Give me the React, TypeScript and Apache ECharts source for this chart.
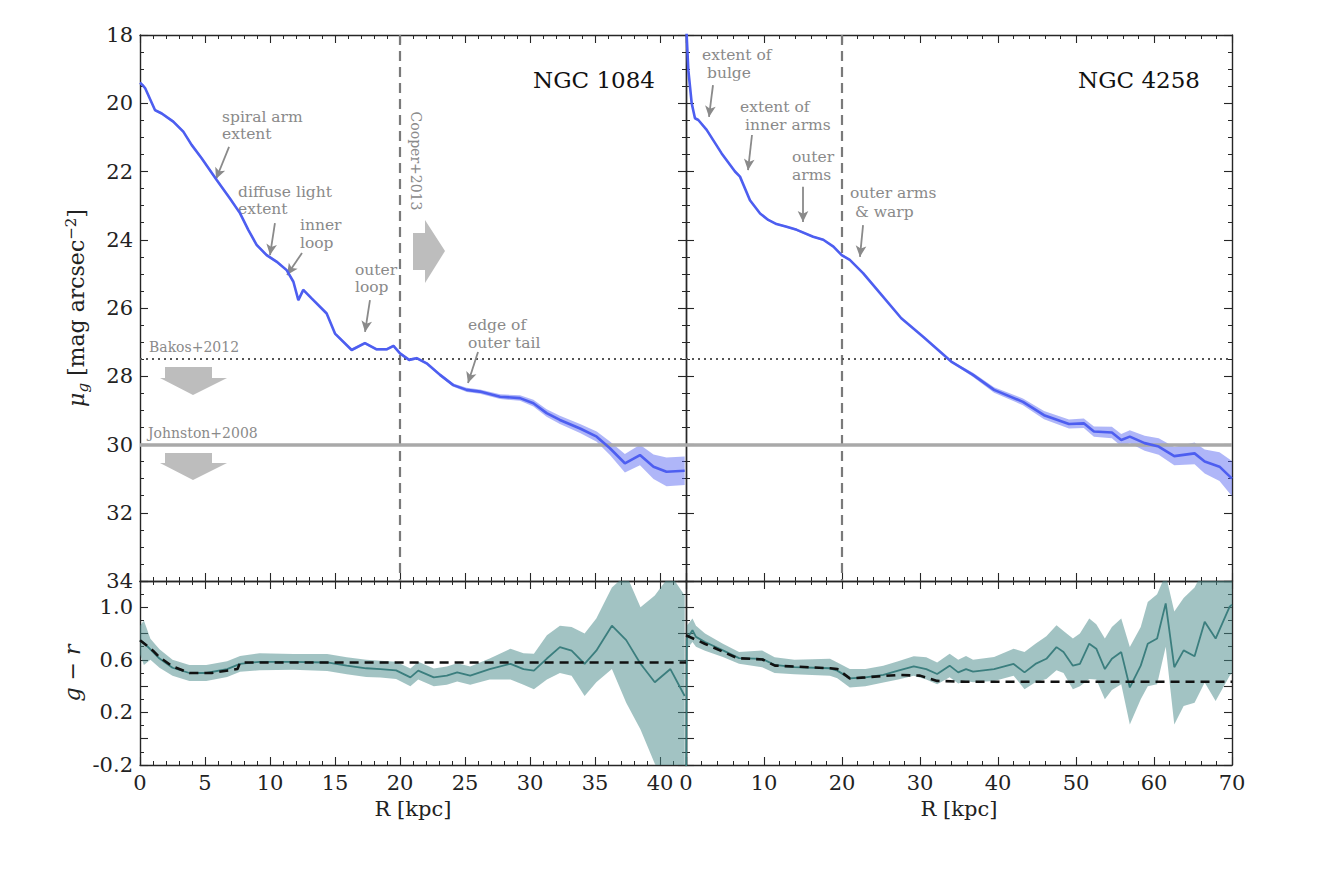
import React, { useEffect, useRef } from 'react';
import * as echarts from 'echarts';

// ---------- NGC 1084 surface brightness ----------
const N1084_R = [0, 0.2, 0.4, 1.15, 1.67, 2.56, 3.33, 3.97, 4.74, 5.9, 6.92, 7.69, 8.33, 8.97, 9.74, 10.5, 11.28, 11.8, 12.18, 12.56, 13.2, 14.36, 15.0, 16.28, 17.3, 18.2, 18.97, 19.5, 20.0, 20.7, 21.28, 22.05, 23.08, 24.1, 25.13, 26.15, 27.7, 29.23, 30.26, 31.28, 32.3, 33.85, 35.13, 36.15, 37.3, 38.46, 39.5, 40.5, 41.9];
const N1084_MU = [19.4, 19.47, 19.56, 20.2, 20.3, 20.54, 20.83, 21.22, 21.61, 22.25, 22.79, 23.22, 23.71, 24.15, 24.45, 24.64, 24.89, 25.23, 25.77, 25.47, 25.72, 26.16, 26.75, 27.23, 27.03, 27.21, 27.21, 27.11, 27.33, 27.52, 27.47, 27.62, 27.96, 28.26, 28.4, 28.45, 28.6, 28.64, 28.79, 29.08, 29.28, 29.53, 29.77, 30.11, 30.55, 30.31, 30.65, 30.8, 30.77];
const N1084_ERR = [0.04, 0.04, 0.04, 0.04, 0.04, 0.04, 0.04, 0.04, 0.04, 0.04, 0.04, 0.04, 0.04, 0.04, 0.04, 0.04, 0.04, 0.04, 0.04, 0.04, 0.04, 0.04, 0.04, 0.04, 0.04, 0.04, 0.04, 0.04, 0.04, 0.04, 0.04, 0.04, 0.05, 0.05, 0.06, 0.06, 0.07, 0.08, 0.1, 0.11, 0.12, 0.13, 0.15, 0.2, 0.27, 0.3, 0.36, 0.42, 0.42];

// ---------- NGC 4258 surface brightness ----------
const N4258_R = [0, 0.3, 0.73, 1.15, 1.58, 2.65, 4.57, 6.28, 6.92, 8.2, 9.5, 10.55, 11.6, 12.9, 14.2, 16.3, 17.6, 18.9, 19.96, 21.0, 22.7, 24.9, 27.6, 30.4, 34.0, 36.8, 39.5, 43.2, 45.9, 49.1, 51.0, 52.3, 54.6, 55.8, 56.9, 58.8, 60.6, 62.6, 65.2, 66.5, 68.4, 70];
const N4258_MU = [17.6, 19.03, 20.0, 20.44, 20.49, 20.78, 21.47, 22.0, 22.15, 22.84, 23.23, 23.42, 23.54, 23.62, 23.71, 23.91, 24.0, 24.2, 24.45, 24.59, 24.98, 25.57, 26.3, 26.84, 27.57, 27.96, 28.4, 28.75, 29.14, 29.4, 29.38, 29.62, 29.65, 29.87, 29.77, 29.96, 30.06, 30.34, 30.26, 30.5, 30.65, 31.0];
const N4258_ERR = [0.03, 0.03, 0.03, 0.03, 0.03, 0.03, 0.03, 0.03, 0.03, 0.03, 0.03, 0.03, 0.03, 0.03, 0.03, 0.03, 0.03, 0.03, 0.03, 0.03, 0.03, 0.03, 0.03, 0.03, 0.03, 0.06, 0.08, 0.1, 0.12, 0.13, 0.14, 0.15, 0.17, 0.18, 0.19, 0.22, 0.24, 0.27, 0.32, 0.35, 0.42, 0.52];

// ---------- NGC 1084 g-r colour ----------
const GR1084_R = [0, 0.3, 0.8, 1.5, 2.5, 3.8, 5.1, 6.7, 7.7, 9.2, 11.8, 14.4, 15.9, 17.4, 18.5, 19.7, 20.8, 21.4, 22.6, 23.6, 24.4, 25.4, 26.9, 28.5, 29.5, 30.3, 31.3, 32.3, 33.2, 34.2, 35.1, 36.3, 37.4, 38.5, 39.6, 40.8, 41.9];
const GR1084 = [0.75, 0.73, 0.68, 0.61, 0.54, 0.5, 0.5, 0.53, 0.57, 0.585, 0.585, 0.58, 0.556, 0.536, 0.53, 0.52, 0.467, 0.518, 0.467, 0.48, 0.505, 0.48, 0.53, 0.57, 0.53, 0.518, 0.61, 0.697, 0.67, 0.57, 0.67, 0.86, 0.75, 0.57, 0.43, 0.53, 0.325];
const GR1084_HI = [0.86, 0.9, 0.76, 0.68, 0.6, 0.56, 0.56, 0.59, 0.63, 0.65, 0.645, 0.645, 0.62, 0.6, 0.594, 0.585, 0.535, 0.585, 0.535, 0.55, 0.575, 0.55, 0.61, 0.685, 0.65, 0.646, 0.787, 0.86, 0.85, 0.8, 0.915, 1.15, 1.25, 1.0, 1.09, 1.25, 1.09];
const GR1084_LO = [0.64, 0.56, 0.6, 0.54, 0.48, 0.44, 0.44, 0.47, 0.51, 0.52, 0.525, 0.515, 0.49, 0.47, 0.465, 0.455, 0.4, 0.45, 0.4, 0.41, 0.435, 0.41, 0.45, 0.45, 0.41, 0.377, 0.45, 0.5, 0.48, 0.325, 0.43, 0.53, 0.273, 0.07, -0.19, -0.4, -0.45];
const MOD1084_R = [0, 1, 1.5, 2.5, 3.8, 5.5, 7.5, 7.7, 42];
const MOD1084 = [0.75, 0.67, 0.62, 0.55, 0.5, 0.5, 0.53, 0.58, 0.58];

// ---------- NGC 4258 g-r colour ----------
const GR4258_R = [0, 0.1, 0.83, 1.28, 2.44, 4.73, 6.8, 9.76, 11.36, 13.9, 18.46, 19.4, 21, 23, 25.3, 27.2, 29.2, 30.8, 32.2, 33.8, 34.9, 35.9, 36.8, 39.5, 42, 43.4, 44.8, 46.2, 47.5, 48.4, 49.6, 50.5, 51.7, 52.6, 53.7, 54.6, 55.8, 56.9, 58.3, 59.2, 60.4, 61.5, 62.6, 63.8, 65.2, 66.5, 67.9, 69.7, 70];
const GR4258 = [-0.6, 0.76, 0.825, 0.775, 0.736, 0.672, 0.613, 0.608, 0.562, 0.544, 0.536, 0.518, 0.459, 0.467, 0.485, 0.518, 0.551, 0.53, 0.492, 0.556, 0.505, 0.53, 0.51, 0.53, 0.569, 0.505, 0.569, 0.608, 0.697, 0.659, 0.556, 0.569, 0.723, 0.685, 0.53, 0.608, 0.659, 0.39, 0.556, 0.723, 0.762, 1.03, 0.544, 0.672, 0.628, 0.89, 0.762, 1.005, 1.02];
const GR4258_HI = [-0.5, 0.86, 0.915, 0.86, 0.8, 0.723, 0.66, 0.672, 0.62, 0.6, 0.608, 0.58, 0.53, 0.53, 0.556, 0.59, 0.628, 0.62, 0.58, 0.646, 0.6, 0.63, 0.6, 0.621, 0.685, 0.66, 0.723, 0.78, 0.864, 0.82, 0.762, 0.8, 0.915, 0.87, 0.762, 0.85, 0.915, 0.697, 0.85, 1.04, 1.1, 1.25, 0.967, 1.07, 1.15, 1.3, 1.3, 1.3, 1.3];
const GR4258_LO = [-0.7, 0.68, 0.736, 0.7, 0.67, 0.621, 0.57, 0.544, 0.5, 0.49, 0.48, 0.46, 0.39, 0.4, 0.428, 0.45, 0.48, 0.45, 0.415, 0.467, 0.42, 0.44, 0.43, 0.44, 0.48, 0.377, 0.43, 0.454, 0.52, 0.5, 0.377, 0.4, 0.454, 0.45, 0.3, 0.37, 0.415, 0.108, 0.3, 0.4, 0.415, 0.7, 0.108, 0.249, 0.274, 0.428, 0.287, 0.48, 0.5];
const MOD4258_R = [0, 2.4, 6.6, 9.8, 11.4, 18.5, 19.4, 21, 23, 27.2, 30, 32.2, 35.9, 70];
const MOD4258 = [0.787, 0.723, 0.613, 0.603, 0.556, 0.536, 0.53, 0.459, 0.467, 0.485, 0.48, 0.44, 0.433, 0.433];

// reference levels
const COOPER_R = 20;
const BAKOS_MU = 27.5;
const JOHNSTON_MU = 30;

// annotation arrows [R_tail, mu_tail, R_head, mu_head]
const ARROWS_1084 = [
  [6.85, 21.28, 5.85, 22.22],
  [10.38, 23.51, 10.0, 24.45],
  [12.46, 24.39, 11.31, 25.03],
  [17.69, 25.77, 17.31, 26.7],
  [26.0, 27.29, 25.23, 28.2],
];
const ARROWS_4258 = [
  [3.46, 19.47, 2.95, 20.4],
  [8.46, 20.93, 7.95, 21.96],
  [15.0, 22.45, 15.0, 23.48],
  [22.7, 23.57, 22.3, 24.5],
];

const FONT = '"DejaVu Serif", serif';
const AX = '#262626';
const BLUE = '#4d5ef0';
const BLUE_BAND = 'rgba(77,94,240,0.45)';
const TEAL = '#3b7e7e';
const TEAL_BAND = 'rgba(70,135,135,0.5)';
const ANN = '#8a8a8a';

const zip = (a: number[], b: number[]) => a.map((x, i) => [x, b[i]]);

function xAx(grid: number, max: number, interval: number, minor: number, position: string, labels: boolean, name?: string) {
  return {
    type: 'value', gridIndex: grid, min: 0, max, interval, position,
    axisLine: { show: true, onZero: false, lineStyle: { color: AX, width: 1.4 } },
    axisTick: { show: true, inside: true, length: 8, lineStyle: { color: AX, width: 1.1 } },
    minorTick: { show: true, splitNumber: minor, length: 4, lineStyle: { color: AX, width: 1 } },
    splitLine: { show: false },
    axisLabel: {
      show: labels, fontFamily: FONT, fontSize: 21, color: '#222', margin: 7,
      formatter: (v: number) => (Math.abs(v % interval) < 1e-6 ? String(v) : ''),
    },
    name: name || '', nameLocation: 'middle', nameGap: 33,
    nameTextStyle: { fontFamily: FONT, fontSize: 21, color: '#222' },
  };
}

function yAx(grid: number, min: number, max: number, interval: number, minor: number, position: string, labels: boolean, inverse: boolean, fmt?: (v: number) => string) {
  return {
    type: 'value', gridIndex: grid, min, max, interval, position, inverse,
    axisLine: { show: true, onZero: false, lineStyle: { color: AX, width: 1.4 } },
    axisTick: { show: true, inside: true, length: 8, lineStyle: { color: AX, width: 1.1 } },
    minorTick: { show: true, splitNumber: minor, length: 4, lineStyle: { color: AX, width: 1 } },
    splitLine: { show: false },
    axisLabel: { show: labels, fontFamily: FONT, fontSize: 21, color: '#222', margin: 7, formatter: fmt },
  };
}

// filled band between lo and hi, drawn through the axes' scales (api.coord)
function band(xi: number, yi: number, xs: number[], lo: number[], hi: number[], color: string) {
  return {
    type: 'custom', xAxisIndex: xi, yAxisIndex: yi, silent: true, clip: true, z: 1,
    data: [[xs[0], lo[0]]],
    renderItem: (params: any, api: any) => {
      const pts: number[][] = [];
      for (let i = 0; i < xs.length; i++) pts.push(api.coord([xs[i], hi[i]]));
      for (let i = xs.length - 1; i >= 0; i--) pts.push(api.coord([xs[i], lo[i]]));
      const cs = params.coordSys;
      return {
        type: 'polygon',
        shape: { points: pts },
        style: { fill: color, stroke: 'none' },
        clipPath: { type: 'rect', shape: { x: cs.x, y: cs.y, width: cs.width, height: cs.height } },
      };
    },
  };
}

function refLines() {
  return [
    { xAxis: COOPER_R, lineStyle: { color: '#7a7a7a', width: 2.2, type: [10, 6] } },
    { yAxis: BAKOS_MU, lineStyle: { color: '#555', width: 2, type: [2, 4] } },
    { yAxis: JOHNSTON_MU, lineStyle: { color: '#a9a9a9', width: 3.5, type: 'solid' } },
  ];
}

function arrowLines(arrs: number[][]) {
  return arrs.map((a) => [
    { coord: [a[0], a[1]], symbol: 'none', lineStyle: { color: ANN, width: 1.8, type: 'solid' } },
    { coord: [a[2], a[3]], symbol: 'arrow', symbolSize: [8, 11], lineStyle: { color: ANN, width: 1.8, type: 'solid' } },
  ]);
}

const txt = (text: string, x: number, y: number, size = 15.5, fill = ANN) => ({
  type: 'text', x, y, silent: true,
  style: { text, fill, font: `${size}px ${FONT}`, align: 'left', verticalAlign: 'middle' },
});

export default function App() {
  const ref = useRef<HTMLDivElement>(null);
  useEffect(() => {
    const chart = echarts.init(ref.current as HTMLDivElement, null, { renderer: 'svg' });

    const grFmt = (v: number) => {
      const r = Math.round(v * 10);
      return r === 10 || r === 6 || r === 2 || r === -2 ? v.toFixed(1) : '';
    };
    const muFmt = (v: number) => (Math.round(v) % 2 === 0 ? String(Math.round(v)) : '');

    const yTop0: any = yAx(0, 18, 34, 2, 4, 'left', true, true, muFmt);
    yTop0.name = '{a|μ}{s|g} [mag arcsec{p|−2}]';
    yTop0.nameLocation = 'middle';
    yTop0.nameGap = 50;
    yTop0.nameTextStyle = {
      fontFamily: FONT, fontSize: 22, color: '#222',
      rich: {
        a: { fontFamily: FONT, fontSize: 22, fontStyle: 'italic', color: '#222' },
        s: { fontFamily: FONT, fontSize: 15, fontStyle: 'italic', color: '#222', padding: [12, 0, 0, 0] },
        p: { fontFamily: FONT, fontSize: 15, color: '#222', padding: [0, 0, 12, 0] },
      },
    };
    const yBot0: any = yAx(2, -0.2, 1.2, 0.2, 2, 'left', true, false, grFmt);
    yBot0.name = 'g − r';
    yBot0.nameLocation = 'middle';
    yBot0.nameGap = 57;
    yBot0.nameTextStyle = { fontFamily: FONT, fontSize: 22, fontStyle: 'italic', color: '#222' };

    const option: any = {
      animation: false,
      backgroundColor: '#ffffff',
      grid: [
        { left: 140, top: 35, width: 546, height: 546 },
        { left: 686, top: 35, width: 546, height: 546 },
        { left: 140, top: 581, width: 546, height: 184 },
        { left: 686, top: 581, width: 546, height: 184 },
      ],
      xAxis: [
        xAx(0, 42, 5, 5, 'bottom', false),
        xAx(0, 42, 5, 5, 'top', false),
        xAx(1, 70, 10, 5, 'bottom', false),
        xAx(1, 70, 10, 5, 'top', false),
        xAx(2, 42, 5, 5, 'bottom', true, 'R [kpc]'),
        xAx(2, 42, 5, 5, 'top', false),
        xAx(3, 70, 10, 5, 'bottom', true, 'R [kpc]'),
        xAx(3, 70, 10, 5, 'top', false),
      ],
      yAxis: [
        yTop0,
        yAx(0, 18, 34, 2, 4, 'right', false, true),
        yAx(1, 18, 34, 2, 4, 'left', false, true),
        yAx(1, 18, 34, 2, 4, 'right', false, true),
        yBot0,
        yAx(2, -0.2, 1.2, 0.2, 2, 'right', false, false),
        yAx(3, -0.2, 1.2, 0.2, 2, 'left', false, false),
        yAx(3, -0.2, 1.2, 0.2, 2, 'right', false, false),
      ],
      series: [
        // NGC 1084 mu
        band(0, 0, N1084_R, N1084_MU.map((m, i) => m - N1084_ERR[i]), N1084_MU.map((m, i) => m + N1084_ERR[i]), BLUE_BAND),
        {
          type: 'line', xAxisIndex: 0, yAxisIndex: 0, symbol: 'none', data: zip(N1084_R, N1084_MU),
          lineStyle: { color: BLUE, width: 2.6 }, z: 3,
          markLine: {
            silent: true, symbol: ['none', 'none'], label: { show: false }, z: 2,
            data: [...refLines(), ...arrowLines(ARROWS_1084)],
          },
        },
        // NGC 4258 mu
        band(2, 2, N4258_R, N4258_MU.map((m, i) => m - N4258_ERR[i]), N4258_MU.map((m, i) => m + N4258_ERR[i]), BLUE_BAND),
        {
          type: 'line', xAxisIndex: 2, yAxisIndex: 2, symbol: 'none', data: zip(N4258_R, N4258_MU),
          lineStyle: { color: BLUE, width: 2.6 }, z: 3,
          markLine: {
            silent: true, symbol: ['none', 'none'], label: { show: false }, z: 2,
            data: [...refLines(), ...arrowLines(ARROWS_4258)],
          },
        },
        // NGC 1084 g-r
        band(4, 4, GR1084_R, GR1084_LO, GR1084_HI, TEAL_BAND),
        {
          type: 'line', xAxisIndex: 4, yAxisIndex: 4, symbol: 'none', data: zip(GR1084_R, GR1084),
          lineStyle: { color: TEAL, width: 1.8 }, z: 3,
        },
        {
          type: 'line', xAxisIndex: 4, yAxisIndex: 4, symbol: 'none', data: zip(MOD1084_R, MOD1084),
          lineStyle: { color: '#111', width: 2.6, type: [9, 6] }, z: 4,
        },
        // NGC 4258 g-r
        band(6, 6, GR4258_R, GR4258_LO, GR4258_HI, TEAL_BAND),
        {
          type: 'line', xAxisIndex: 6, yAxisIndex: 6, symbol: 'none', data: zip(GR4258_R, GR4258),
          lineStyle: { color: TEAL, width: 1.8 }, z: 3,
        },
        {
          type: 'line', xAxisIndex: 6, yAxisIndex: 6, symbol: 'none', data: zip(MOD4258_R, MOD4258),
          lineStyle: { color: '#111', width: 2.6, type: [9, 6] }, z: 4,
        },
      ],
      graphic: [
        { type: 'text', x: 655, y: 80, silent: true, style: { text: 'NGC 1084', fill: '#111', font: `23px ${FONT}`, align: 'right', verticalAlign: 'middle' } },
        { type: 'text', x: 1200, y: 80, silent: true, style: { text: 'NGC 4258', fill: '#111', font: `23px ${FONT}`, align: 'right', verticalAlign: 'middle' } },
        txt('spiral arm', 222, 117), txt('extent', 222, 134),
        txt('diffuse light', 238, 192), txt('extent', 238, 209),
        txt('inner', 300, 225), txt('loop', 300, 243),
        txt('outer', 355, 270), txt('loop', 355, 287),
        txt('edge of', 468, 325), txt('outer tail', 468, 343),
        txt('Bakos+2012', 149, 347, 14), txt('Johnston+2008', 148, 433, 14),
        {
          type: 'text', x: 416, y: 161, rotation: -Math.PI / 2, silent: true,
          style: { text: 'Cooper+2013', fill: ANN, font: `14px ${FONT}`, align: 'center', verticalAlign: 'middle' },
        },
        txt('extent of', 702, 55), txt('bulge', 707, 73),
        txt('extent of', 740, 107), txt('inner arms', 745, 125),
        txt('outer', 792, 157), txt('arms', 792, 175),
        txt('outer arms', 850, 193), txt('& warp', 855, 212),
        {
          type: 'polygon', silent: true,
          shape: { points: [[413, 233], [425, 233], [425, 220], [445, 251], [425, 283], [425, 270], [413, 270]] },
          style: { fill: '#bdbdbd' },
        },
        {
          type: 'polygon', silent: true,
          shape: { points: [[165, 367], [212, 367], [212, 378], [227, 378], [193, 395], [160, 378], [165, 378]] },
          style: { fill: '#bdbdbd' },
        },
        {
          type: 'polygon', silent: true,
          shape: { points: [[165, 453], [212, 453], [212, 463], [227, 463], [193, 480], [160, 463], [165, 463]] },
          style: { fill: '#bdbdbd' },
        },
      ],
    };

    chart.setOption(option);
    return () => chart.dispose();
  }, []);

  return (
    <div
      ref={ref}
      style={{ position: 'fixed', left: 0, top: 0, width: 1320, height: 878, background: '#fff' }}
    />
  );
}
